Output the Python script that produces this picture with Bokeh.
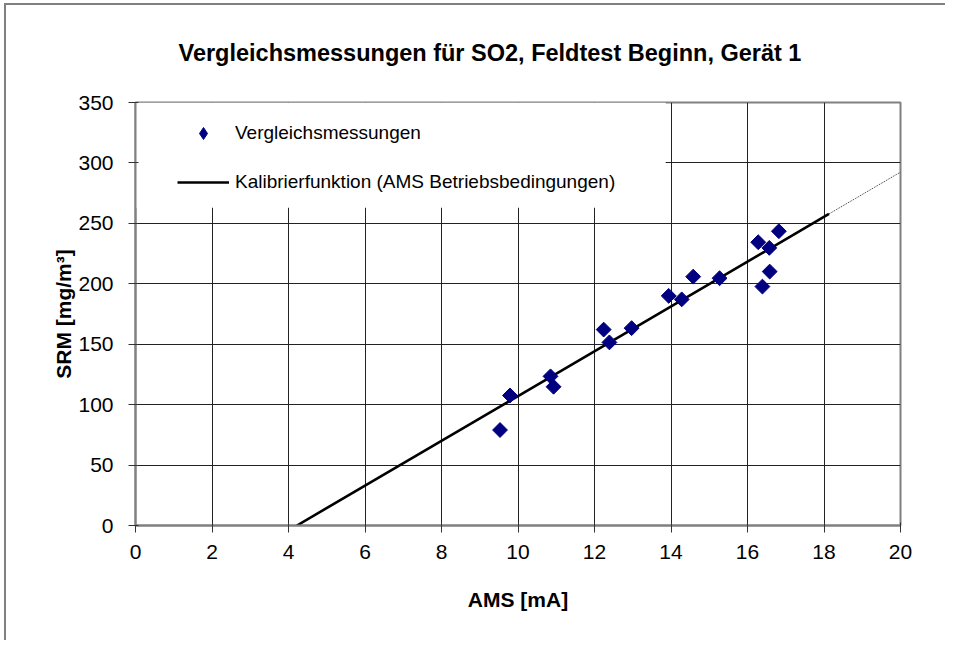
import math
from bokeh.plotting import figure
from bokeh.models import Range1d, Legend, LegendItem, BoxAnnotation, FixedTicker, Title
from bokeh.embed import file_html
from bokeh.resources import INLINE

# ---- data ----
ams_ma = [9.53, 9.79, 10.85, 10.93, 12.24, 12.39, 12.97, 13.94, 14.28, 14.58,
          15.27, 16.28, 16.39, 16.58, 16.57, 16.82]
srm_mg = [79.0, 107.6, 123.4, 114.8, 162.1, 151.5, 163.3, 190.0, 187.1, 205.9,
          204.6, 234.4, 197.7, 210.1, 229.7, 243.5]

calib_x = [4.22, 18.13]
calib_y = [0.0, 257.8]
calib_ext_x = [18.13, 20.0]
calib_ext_y = [257.8, 292.4]

x_ticks = [0, 2, 4, 6, 8, 10, 12, 14, 16, 18, 20]
y_ticks = [0, 50, 100, 150, 200, 250, 300, 350]

title_text = "Vergleichsmessungen für SO2, Feldtest Beginn, Gerät 1"
x_label = "AMS [mA]"
y_label = "SRM [mg/m³]"
label_points = "Vergleichsmessungen"
label_line = "Kalibrierfunktion (AMS Betriebsbedingungen)"

FONT = "Liberation Sans"

p = figure(width=945, height=640, output_backend="svg", toolbar_location=None,
           x_range=Range1d(0, 20), y_range=Range1d(0, 350),
           min_border_left=135, min_border_right=45, min_border_top=102,
           min_border_bottom=115)
# outer chart-area border (top and left edges, as in the reference)
p.styles = {"box-shadow": "inset 4px 3px 0 0 white, inset 6px 5px 0 0 #808080"}

t = Title(text=title_text, align="left", offset=43, standoff=73,
          text_font=FONT, text_font_size="23.5px", text_font_style="bold",
          text_color="black")
p.add_layout(t, "above")

# background
p.background_fill_color = "white"
p.border_fill_alpha = 0
p.outline_line_color = "#808080"
p.outline_line_width = 2

# grids
p.xgrid.ticker = FixedTicker(ticks=x_ticks)
p.ygrid.ticker = FixedTicker(ticks=y_ticks)
for g in (p.xgrid[0], p.ygrid[0]):
    g.grid_line_color = "#222222"
    g.grid_line_width = 1

# white legend background over the grid
legend_bg = BoxAnnotation(left=0, right=13.86, bottom=263, top=350,
                          fill_color="white", fill_alpha=1.0, line_alpha=0,
                          level="underlay")
p.add_layout(legend_bg)

# axes
for ax, ticks in ((p.xaxis[0], x_ticks), (p.yaxis[0], y_ticks)):
    ax.ticker = FixedTicker(ticks=ticks)
    ax.minor_tick_line_color = None
    ax.major_tick_in = 3
    ax.major_tick_out = 7
    ax.major_tick_line_color = "#333333"
    ax.axis_line_color = "#808080"
    ax.axis_line_width = 2
    ax.major_label_text_font = FONT
    ax.major_label_text_font_size = "21px"
    ax.major_label_text_color = "black"
    ax.axis_label_text_font = FONT
    ax.axis_label_text_font_size = "21px"
    ax.axis_label_text_font_style = "bold"
    ax.axis_label_text_color = "black"

p.xaxis.axis_label = x_label
p.yaxis.axis_label = y_label
p.xaxis.major_label_standoff = 12
p.yaxis.major_label_standoff = 15
p.xaxis.axis_label_standoff = 26
p.yaxis.axis_label_standoff = 0

# glyphs
line_r = p.line(calib_x, calib_y, line_color="black", line_width=2.6)
p.line(calib_ext_x, calib_ext_y, line_color="black", line_width=1,
       line_dash="1 1", line_alpha=0.8)
# diamond renderer used for the legend symbol (hidden beneath the plotted markers)
legend_pts = p.scatter(ams_ma, srm_mg, marker="diamond", size=10,
                       fill_color="#000080", line_color="#000080")
p.scatter(ams_ma, srm_mg, marker="square", angle=math.pi / 4, size=10.5,
          fill_color="#000080", line_color="#000080")

legend = Legend(items=[LegendItem(label=label_points, renderers=[legend_pts]),
                       LegendItem(label=label_line, renderers=[line_r])],
                location=(32, 318), margin=0, padding=10, spacing=19,
                glyph_width=52, glyph_height=30, label_height=30,
                label_standoff=6, background_fill_alpha=0,
                border_line_alpha=0, label_text_font=FONT,
                label_text_font_size="19px", label_text_color="black")
p.add_layout(legend, "center")

open("out.html", "w").write(file_html(p, INLINE))
